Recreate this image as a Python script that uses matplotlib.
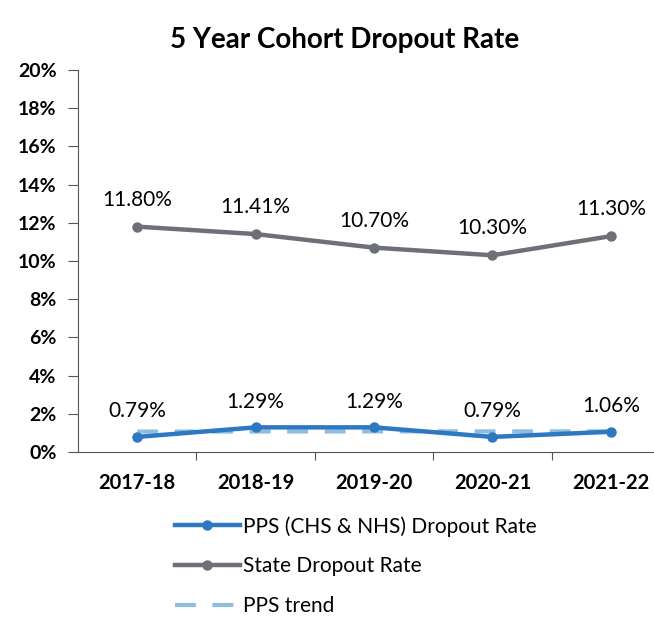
import matplotlib.pyplot as plt
from matplotlib.ticker import PercentFormatter

plt.rcParams['font.family'] = ['Lato', 'DejaVu Sans']

years = ["2017-18", "2018-19", "2019-20", "2020-21", "2021-22"]
pps = [0.79, 1.29, 1.29, 0.79, 1.06]
state = [11.80, 11.41, 10.70, 10.30, 11.30]
pps_trend = [1.07, 1.07, 1.08, 1.08, 1.08]

fig = plt.figure(figsize=(6.54, 6.23), dpi=100)
ax = fig.add_axes([78 / 654, 1 - 452 / 623, 592 / 654, 382 / 623])

x = list(range(len(years)))
l1, = ax.plot(x, pps, color="#2c78c2", lw=3.2, marker="o", ms=6.5,
              label="PPS (CHS & NHS) Dropout Rate", zorder=4)
l2, = ax.plot(x, state, color="#6d7177", lw=3.2, marker="o", ms=6.5,
              label="State Dropout Rate", zorder=3)
l3, = ax.plot(x, pps_trend, color="#8fbde0", lw=3, ls=(0, (5, 4)),
              label="PPS trend", zorder=2)

for i in x:
    ax.annotate(f"{state[i]:.2f}%", (i, state[i]), xytext=(0, 19.5),
                textcoords="offset points", ha="center", va="center", fontsize=15)
    ax.annotate(f"{pps[i]:.2f}%", (i, pps[i]), xytext=(0, 18.5),
                textcoords="offset points", ha="center", va="center", fontsize=15)

ax.set_xlim(-0.5, len(years) - 0.5)
ax.set_ylim(0, 20)
ax.set_yticks(range(0, 21, 2))
ax.yaxis.set_major_formatter(PercentFormatter(decimals=0))
ax.set_xticks([i + 0.5 for i in x[:-1]], minor=False)
ax.set_xticklabels([])
ax.set_xticks(x, minor=True)
ax.set_xticklabels(years, minor=True, fontsize=14.5, fontweight="bold")
ax.tick_params(axis="x", which="minor", length=0, pad=15)
ax.tick_params(axis="x", which="major", length=6, direction="out", color="#555555")
ax.tick_params(axis="y", labelsize=14, length=7, pad=8.5, color="#555555")
for lab in ax.get_yticklabels():
    lab.set_fontweight("bold")
for s in ["top", "right"]:
    ax.spines[s].set_visible(False)
ax.spines["left"].set_color("#555555")
ax.spines["bottom"].set_color("#555555")

fig.text(345 / 654, 1 - 40 / 623, "5 Year Cohort Dropout Rate", ha="center", va="center",
         fontsize=20, fontweight="bold")

fig.legend(handles=[l1, l2, l3], loc="upper left", bbox_to_anchor=(175 / 654, 1 - 516 / 623),
           frameon=False, fontsize=15, handlelength=3.1, labelspacing=0.95,
           handletextpad=0.15, borderpad=0, borderaxespad=0)

fig.savefig("out.png", dpi=100)
